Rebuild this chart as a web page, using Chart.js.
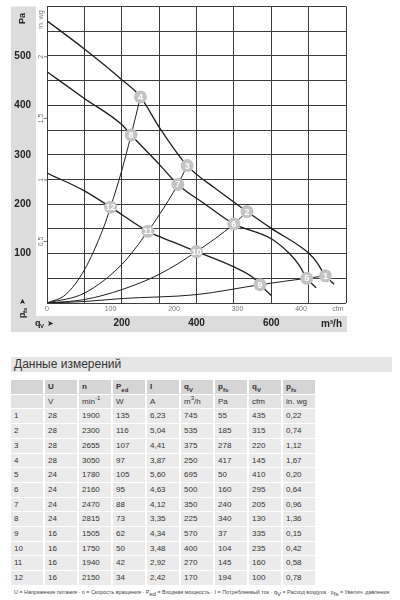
<!DOCTYPE html>
<html lang="ru">
<head>
<meta charset="utf-8">
<title>Характеристика вентилятора</title>
<script src="https://cdn.jsdelivr.net/npm/chart.js@4.4.1/dist/chart.umd.min.js"></script>
<style>
  html, body { margin: 0; padding: 0; background: #fff; }
  body { width: 400px; height: 600px; position: relative; overflow: hidden;
         font-family: "Liberation Sans", Arial, sans-serif; color: #333; }
  #chartBox { position: absolute; left: 0; top: 0; width: 400px; height: 340px; }
  .title { position: absolute; left: 11px; top: 357px; width: 378px; height: 15px; line-height: 15px;
           padding-left: 3px; background: #e6e6e6; font-size: 12px; color: #333; }
  table { position: absolute; left: 9px; top: 379px; border-collapse: separate; border-spacing: 2px 1px;
          table-layout: fixed; font-size: 8px; color: #333; }
  td { box-sizing: border-box; width: 32px; height: 13.7px; padding: 0 0 0 3px; background: #ebebeb;
       white-space: nowrap; line-height: 13.7px; }
  tr.h1 td { background: #d5d5d5; font-weight: bold; }
  tr.h2 td { background: #e3e3e3; }
  sub, sup { font-size: 6px; line-height: 0; }
  .note { position: absolute; left: 14px; top: 589px; font-size: 5.4px; color: #444; white-space: nowrap; }
</style>
</head>
<body>
<div id="chartBox"><canvas id="fanChart" width="400" height="340"></canvas></div>
<div class="title">Данные измерений</div>
<table id="measTable"><tbody></tbody></table>
<div class="note">U = Напряжение питания · n = Скорость вращения · P<sub>ed</sub> = Входная мощность · I = Потребляемый ток · q<sub>V</sub> = Расход воздуха · p<sub>fs</sub> = Увелич. давления</div>

<script>
// ---- measured operating points (table + chart markers)
const pointNo   = [1, 2, 3, 4, 5, 6, 7, 8, 9, 10, 11, 12];
const voltage   = [28, 28, 28, 28, 24, 24, 24, 24, 16, 16, 16, 16];
const speed     = [1900, 2300, 2655, 3050, 1780, 2160, 2470, 2815, 1505, 1750, 1940, 2150];
const powerIn   = [135, 116, 107, 97, 105, 95, 88, 73, 62, 50, 42, 34];
const current   = [6.23, 5.04, 4.41, 3.87, 5.60, 4.63, 4.12, 3.35, 4.34, 3.48, 2.92, 2.42];
const flowM3h   = [745, 535, 375, 250, 695, 500, 350, 225, 570, 400, 270, 170];
const pressPa   = [55, 185, 278, 417, 50, 160, 240, 340, 37, 104, 145, 194];
const flowCfm   = [435, 315, 220, 145, 410, 295, 205, 130, 335, 235, 160, 100];
const pressInWg = [0.22, 0.74, 1.12, 1.67, 0.20, 0.64, 0.96, 1.36, 0.15, 0.42, 0.58, 0.78];

// ---- fan curves [m3/h, Pa]
const fan28V = [[0, 571], [100, 514], [200, 452], [250, 417], [300, 356], [375, 278], [450, 232],
                [535, 185], [600, 151], [700, 101], [722, 82], [745, 55], [768, 38]];
const fan24V = [[0, 468], [100, 414], [200, 361], [225, 340], [300, 281], [350, 240], [425, 199],
                [500, 160], [600, 130], [650, 99], [675, 76], [695, 50], [720, 31]];
const fan16V = [[0, 263], [100, 227], [170, 194], [270, 145], [335, 124], [400, 104], [500, 73],
                [550, 52], [570, 37], [600, 15]];

// ---- system resistance curves through the operating points
const sysA = [[0, 0], [50, 17], [100, 67], [150, 150], [170, 194], [200, 268], [225, 340], [250, 417]];
const sysB = [[0, 0], [100, 20], [200, 78], [270, 145], [300, 178], [350, 240], [375, 278]];
const sysC = [[0, 0], [100, 7], [200, 27], [300, 58], [400, 104], [500, 160], [535, 185]];
const sysD = [[0, 0], [100, 3], [200, 9], [400, 17], [570, 37], [695, 50], [745, 55]];

// ---- axis labels
const xLabels = [200, 400, 600];
const yLabels = [100, 200, 300, 400, 500];
const cfmTicks = [0, 100, 200, 300, 400];
const inWgTicks = [0.5, 1, 1.5, 2];

const M3H_PER_CFM = 1.699;
const PA_PER_INWG = 249.09;
const GRID = '#3c3c3c';
const BAND = '#dcdcdc';
const FONT = '"Liberation Sans", Arial, sans-serif';

// table
const fmt2 = v => v.toFixed(2).replace('.', ',');
const tbody = document.querySelector('#measTable tbody');
tbody.innerHTML =
  '<tr class="h1"><td></td><td>U</td><td>n</td><td>P<sub>ed</sub></td><td>I</td><td>q<sub>V</sub></td><td>p<sub>fs</sub></td><td>q<sub>V</sub></td><td>p<sub>fs</sub></td></tr>' +
  '<tr class="h2"><td></td><td>V</td><td>min<sup>-1</sup></td><td>W</td><td>A</td><td>m<sup>3</sup>/h</td><td>Pa</td><td>cfm</td><td>in. wg</td></tr>';
pointNo.forEach((n, i) => {
  const tr = document.createElement('tr');
  tr.innerHTML = `<td>${n}</td><td>${voltage[i]}</td><td>${speed[i]}</td><td>${powerIn[i]}</td>
    <td>${fmt2(current[i])}</td><td>${flowM3h[i]}</td><td>${pressPa[i]}</td><td>${flowCfm[i]}</td><td>${fmt2(pressInWg[i])}</td>`;
  tbody.appendChild(tr);
});

const toXY = arr => arr.map(p => ({ x: p[0], y: p[1] }));
const curve = (pts, w) => ({
  data: toXY(pts), borderColor: '#1e1e1e', borderWidth: w, pointRadius: 0,
  cubicInterpolationMode: 'monotone', fill: false
});

// bands, unit labels, secondary scales
const decor = {
  id: 'decor',
  beforeDraw(chart) {
    const { ctx, chartArea: a, scales: { x, y } } = chart;
    ctx.save();
    ctx.fillStyle = BAND;
    ctx.fillRect(y.left, a.top, 25, x.bottom - a.top);
    ctx.fillRect(y.left, x.bottom - 16, a.right + 1 - y.left, 16);
    ctx.restore();
  },
  afterDatasetsDraw(chart) {
    const { ctx } = chart;
    const meta = chart.getDatasetMeta(0);
    ctx.save();
    ctx.fillStyle = '#fff';
    ctx.font = `bold 9px ${FONT}`;
    ctx.textAlign = 'center';
    ctx.textBaseline = 'middle';
    meta.data.forEach((pt, i) => ctx.fillText(String(pointNo[i]), pt.x, pt.y + 0.5));
    ctx.restore();
  },
  afterDraw(chart) {
    const { ctx, chartArea: a, scales: { x, y } } = chart;
    const rot = (txt, px, py, font, color) => {
      ctx.save();
      ctx.translate(px, py);
      ctx.rotate(-Math.PI / 2);
      ctx.font = font;
      ctx.fillStyle = color;
      ctx.textAlign = 'center';
      ctx.textBaseline = 'middle';
      ctx.fillText(txt, 0, 0);
      ctx.restore();
    };
    ctx.save();
    // cfm scale
    ctx.font = `7px ${FONT}`;
    ctx.fillStyle = '#777';
    ctx.textAlign = 'center';
    ctx.textBaseline = 'middle';
    cfmTicks.forEach(c => ctx.fillText(String(c), x.getPixelForValue(c * M3H_PER_CFM), a.bottom + 6));
    ctx.fillText('cfm', a.right - 8, a.bottom + 6);
    // in. wg scale
    ctx.strokeStyle = '#777';
    ctx.lineWidth = 1;
    inWgTicks.forEach(v => {
      const py = y.getPixelForValue(v * PA_PER_INWG);
      ctx.beginPath();
      ctx.moveTo(a.left - 3, py);
      ctx.lineTo(a.left, py);
      ctx.stroke();
      rot(String(v).replace('.', ','), a.left - 6, py, `7px ${FONT}`, '#777');
    });
    rot('in. wg', a.left - 6, a.top + 13, `7px ${FONT}`, '#777');
    // band texts
    rot('Pa', 23, a.top + 12, `bold 9px ${FONT}`, '#222');
    ctx.translate(23, 318);
    ctx.rotate(-Math.PI / 2);
    ctx.fillStyle = '#222';
    ctx.textAlign = 'left';
    ctx.textBaseline = 'middle';
    ctx.font = `bold 9px ${FONT}`;
    ctx.fillText('p', 0, 0);
    ctx.font = `bold 6px ${FONT}`;
    ctx.fillText('fs', 5, 2);
    ctx.font = `8px "DejaVu Sans"`;
    ctx.fillText('➤', 13, 0);
    ctx.setTransform(1, 0, 0, 1, 0, 0);
    const by = x.bottom - 8;
    ctx.font = `bold 9px ${FONT}`;
    ctx.textAlign = 'left';
    ctx.fillText('q', 35, by);
    ctx.font = `bold 6px ${FONT}`;
    ctx.fillText('V', 40, by + 2);
    ctx.font = `8px "DejaVu Sans"`;
    ctx.fillText('➤', 47, by);
    ctx.font = `bold 10px ${FONT}`;
    ctx.textAlign = 'right';
    ctx.fillText('m³/h', a.right - 4, by);
    ctx.restore();
  }
};

Chart.defaults.font.family = FONT;

new Chart(document.getElementById('fanChart'), {
  type: 'line',
  data: {
    datasets: [
      {
        data: pointNo.map((n, i) => ({ x: flowM3h[i], y: pressPa[i] })),
        showLine: false, pointRadius: 6.5, pointBackgroundColor: '#c3c3c3',
        pointBorderColor: '#c3c3c3', pointBorderWidth: 0
      },
      curve(fan28V, 1.3), curve(fan24V, 1.3), curve(fan16V, 1.3),
      curve(sysA, 1), curve(sysB, 1), curve(sysC, 1), curve(sysD, 1)
    ]
  },
  options: {
    responsive: false,
    animation: false,
    layout: { padding: { left: 11, right: 54, top: 5, bottom: 8 } },
    plugins: { legend: { display: false }, tooltip: { enabled: false } },
    scales: {
      x: {
        type: 'linear', min: 0, max: 800, position: 'bottom',
        border: { display: false },
        grid: { color: GRID, lineWidth: 1, drawTicks: false },
        ticks: {
          stepSize: 100, padding: 14, color: '#222', autoSkip: false, maxRotation: 0,
          font: { size: 10, weight: 'bold' },
          callback: v => xLabels.includes(v) ? String(v) : ''
        },
        afterFit: s => { s.height = 29; }
      },
      y: {
        type: 'linear', min: 0, max: 600,
        border: { display: false },
        grid: { color: GRID, lineWidth: 1, drawTicks: true, tickLength: 16, tickColor: 'rgba(0,0,0,0)' },
        ticks: {
          stepSize: 50, padding: 0, color: '#222', autoSkip: false,
          font: { size: 10, weight: 'bold', lineHeight: 0.8 },
          callback: v => yLabels.includes(v) ? String(v) : ''
        },
        afterFit: s => { s.width = 36; }
      }
    }
  },
  plugins: [decor]
});
</script>
</body>
</html>
